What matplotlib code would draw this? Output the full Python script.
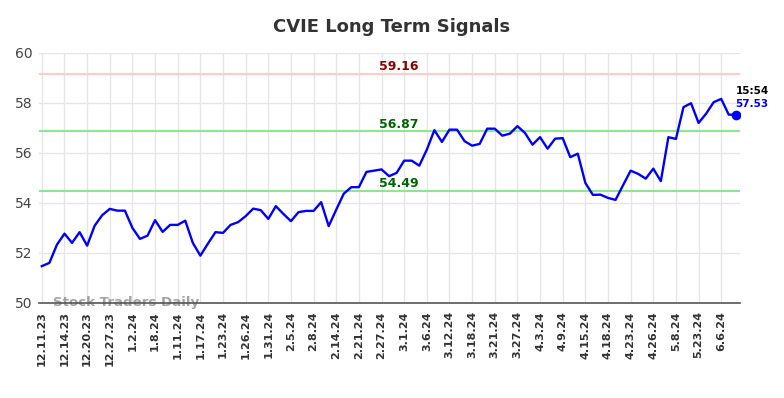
import matplotlib
matplotlib.use("Agg")
import matplotlib.pyplot as plt

# closing prices, one every trading step (3 steps per labelled tick)
prices = [
    51.47, 51.60, 52.33, 52.77, 52.40, 52.83, 52.29, 53.09, 53.51, 53.76,
    53.69, 53.69, 53.00, 52.56, 52.69, 53.31, 52.84, 53.12, 53.12, 53.29,
    52.40, 51.89, 52.37, 52.83, 52.80, 53.12, 53.23, 53.47, 53.77, 53.71,
    53.36, 53.87, 53.56, 53.27, 53.63, 53.68, 53.68, 54.03, 53.07, 53.73,
    54.37, 54.63, 54.63, 55.24, 55.29, 55.34, 55.07, 55.20, 55.69, 55.69,
    55.49, 56.13, 56.91, 56.44, 56.93, 56.93, 56.47, 56.29, 56.36, 56.97,
    56.97, 56.69, 56.77, 57.07, 56.80, 56.33, 56.63, 56.17, 56.57, 56.59,
    55.83, 55.97, 54.80, 54.32, 54.33, 54.20, 54.12, 54.71, 55.29, 55.16,
    54.97, 55.37, 54.87, 56.63, 56.56, 57.83, 57.99, 57.20, 57.57, 58.03,
    58.16, 57.53, 57.53,
]
tick_labels = [
    "12.11.23", "12.14.23", "12.20.23", "12.27.23", "1.2.24", "1.8.24",
    "1.11.24", "1.17.24", "1.23.24", "1.26.24", "1.31.24", "2.5.24",
    "2.8.24", "2.14.24", "2.21.24", "2.27.24", "3.1.24", "3.6.24",
    "3.12.24", "3.18.24", "3.21.24", "3.27.24", "4.3.24", "4.9.24",
    "4.15.24", "4.18.24", "4.23.24", "4.26.24", "5.8.24", "5.23.24", "6.6.24",
]
resistance = 59.16
mid_level = 56.87
support = 54.49
last_time = "15:54"
last_price = 57.53

fig = plt.figure(figsize=(7.84, 3.98), dpi=100)
ax = fig.add_axes([0.050, 0.239, 0.894, 0.628])

x = list(range(len(prices)))
ax.plot(x, prices, color="blue", linewidth=1.7, zorder=3)
ax.plot(x[-1], prices[-1], "o", color="blue", markersize=6, zorder=4)

ax.axhline(resistance, color="#ffcccc", linewidth=1.5, zorder=2)
ax.axhline(mid_level, color="#90e690", linewidth=1.5, zorder=2)
ax.axhline(support, color="#90e690", linewidth=1.5, zorder=2)

# level labels sit just above their lines, mid-chart
label_x = 47.3
ax.text(label_x, resistance + 0.02, f"{resistance:.2f}", color="#8b0000",
        fontsize=9, fontweight="bold", ha="center", va="bottom")
ax.text(label_x, mid_level + 0.02, f"{mid_level:.2f}", color="#006400",
        fontsize=9, fontweight="bold", ha="center", va="bottom")
ax.text(label_x, support + 0.02, f"{support:.2f}", color="#006400",
        fontsize=9, fontweight="bold", ha="center", va="bottom")

ax.text(x[-1] - 0.1, 58.48, last_time, color="black", fontsize=7.5,
        fontweight="bold", ha="left", va="center", clip_on=False)
ax.text(x[-1] - 0.1, 57.97, f"{last_price:.2f}", color="blue", fontsize=7.5,
        fontweight="bold", ha="left", va="center", clip_on=False)

ax.text(1.5, 50.0, "Stock Traders Daily", color="#999999", fontsize=9.6,
        fontweight="bold", ha="left", va="center", alpha=0.9, zorder=1)

ax.set_xlim(-0.35, 92.5)
ax.set_ylim(50, 60)
ax.set_xticks(range(0, 3 * len(tick_labels), 3))
ax.set_xticklabels(tick_labels, rotation=90, fontsize=8, fontweight="bold",
                   color="#333333")
ax.set_yticks(range(50, 61, 2))
ax.tick_params(axis="y", labelsize=10, colors="#444444", length=0, pad=5)
ax.tick_params(axis="x", length=0, pad=6)

ax.grid(True, color="#e6e6e6", linewidth=1)
ax.set_axisbelow(True)
for side in ("top", "right", "left"):
    ax.spines[side].set_visible(False)
ax.spines["bottom"].set_color("#555555")
ax.spines["bottom"].set_linewidth(1.2)

fig.suptitle("CVIE Long Term Signals", fontsize=13, fontweight="bold",
             color="#333333", y=0.955)

fig.savefig("out.png", dpi=100)
